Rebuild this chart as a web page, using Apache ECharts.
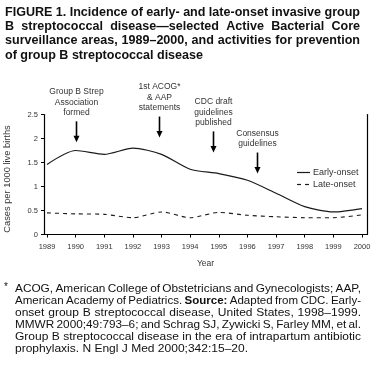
<!DOCTYPE html>
<html><head><meta charset="utf-8">
<script src="https://cdn.jsdelivr.net/npm/echarts@6/dist/echarts.min.js"></script>
<style>html,body{margin:0;padding:0;background:#fff}#c{width:378px;height:380px}</style>
</head><body><div id="c"></div>
<script>
// ---- data ----
const years = [1989, 1990, 1991, 1992, 1993, 1994, 1995, 1996, 1997, 1998, 1999, 2000];
const earlyOnset = [1.46, 1.75, 1.67, 1.80, 1.67, 1.36, 1.27, 1.13, 0.86, 0.58, 0.47, 0.54];
const lateOnset  = [0.45, 0.43, 0.42, 0.35, 0.47, 0.35, 0.46, 0.40, 0.37, 0.35, 0.35, 0.41];
const yTicks = [0, 0.5, 1, 1.5, 2, 2.5];
const seriesNames = ['Early-onset', 'Late-onset'];
const yAxisTitle = 'Cases per 1000 live births';
const annotationYears = [1990.0, 1992.9, 1994.8, 1996.35];
const annotationTips = [1.92, 2.02, 1.71, 1.27];
const annotationTexts = [
  ['Group B Strep', 'Association', 'formed'],
  ['1st ACOG*', '& AAP', 'statements'],
  ['CDC draft', 'guidelines', 'published'],
  ['Consensus', 'guidelines']
];
const titleLines = [
  'FIGURE 1. Incidence of early- and late-onset invasive group',
  'B streptococcal disease\u2014selected Active Bacterial Core',
  'surveillance areas, 1989\u20132000, and activities for prevention',
  'of group B streptococcal disease'
];
const footLines = [
  'ACOG, American College of Obstetricians and Gynecologists; AAP,',
  'American Academy of Pediatrics. **Source:** Adapted from CDC. Early-',
  'onset group B streptococcal disease, United States, 1998\u20131999.',
  'MMWR 2000;49:793\u20136; and Schrag SJ, Zywicki S, Farley MM, et al.',
  'Group B streptococcal disease in the era of intrapartum antibiotic',
  'prophylaxis. N Engl J Med 2000;342:15\u201320.'
];

const FF = 'Liberation Sans';
const INK = '#1a1a1a';
const chart = echarts.init(document.getElementById('c'), null, {renderer: 'canvas'});

const cv = document.createElement('canvas').getContext('2d');
function tw(t, size, bold) { cv.font = (bold ? 'bold ' : '') + size + 'px "' + FF + '"'; return cv.measureText(t).width; }

// justified paragraph as graphic texts
function paragraph(lines, x, y0, lh, width, size, baseBold, lastWidth, color) {
  const els = [];
  const parsed = lines.map(l => l.split(' ').map(w => {
    const b = /^\*\*.*\*\*$/.test(w);
    return {t: b ? w.slice(2, -2) : w, bold: b || baseBold};
  }));
  const natural = ws => ws.reduce((s, w) => s + tw(w.t, size, w.bold), 0) + (ws.length - 1) * tw(' ', size, baseBold);
  const last = parsed[parsed.length - 1];
  let s = lastWidth / natural(last);
  parsed.forEach((ws, i) => {
    const isLast = i === parsed.length - 1;
    let sc = s;
    const W = ws.reduce((a, w) => a + tw(w.t, size, w.bold), 0);
    let gap;
    if (isLast) gap = tw(' ', size, baseBold) * sc;
    else {
      gap = (width - sc * W) / (ws.length - 1);
      const minGap = tw(' ', size, baseBold) * sc * 0.7;
      if (gap < minGap) { sc = (width - minGap * (ws.length - 1)) / W; gap = minGap; }
    }
    let cx = x;
    ws.forEach(w => {
      els.push({type: 'text', x: cx, y: y0 + i * lh, scaleX: sc, silent: true,
        style: {text: w.t, fontFamily: FF, fontSize: size, fontWeight: w.bold ? 'bold' : 'normal',
          fill: color, verticalAlign: 'middle', align: 'left'}});
      cx += tw(w.t, size, w.bold) * sc + gap;
    });
  });
  return els;
}

const option = {
  animation: false,
  backgroundColor: '#fff',
  grid: {left: 44, right: 11, top: 114.5, bottom: 145.5, containLabel: false},
  xAxis: {
    type: 'value', min: 1988.895, max: 2000.175,
    name: 'Year', nameLocation: 'middle', nameGap: 25,
    nameTextStyle: {fontFamily: FF, fontSize: 8.5, color: '#333'},
    axisLine: {show: true, lineStyle: {color: '#000', width: 1.2}},
    axisTick: {show: true, length: 3, customValues: years, lineStyle: {color: '#000'}},
    axisLabel: {customValues: years, fontFamily: FF, fontSize: 7.5, color: '#333', margin: 8,
      formatter: v => String(Math.round(v))},
    splitLine: {show: false}
  },
  yAxis: [{
    type: 'value', min: 0, max: 2.5, interval: 0.5,
    axisLine: {show: true, lineStyle: {color: '#000', width: 1.2}},
    axisTick: {show: true, length: 3, lineStyle: {color: '#000'}},
    axisLabel: {fontFamily: FF, fontSize: 7.5, color: '#333', margin: 6,
      formatter: v => yTicks.indexOf(v) >= 0 ? String(v) : ''},
    splitLine: {show: false}
  }, {
    type: 'value', min: 0, max: 2.5, position: 'right',
    axisLine: {show: true, lineStyle: {color: '#000', width: 1.2}},
    axisTick: {show: false}, axisLabel: {show: false}, splitLine: {show: false}
  }],
  legend: {show: false},
  series: [{
    name: seriesNames[0], type: 'line', smooth: 0.25, symbol: 'none',
    lineStyle: {color: INK, width: 1.2},
    data: years.map((y, i) => [y, earlyOnset[i]])
  }, {
    name: seriesNames[1], type: 'line', smooth: 0.25, symbol: 'none',
    lineStyle: {color: INK, width: 1.1, type: [4, 4]},
    data: years.map((y, i) => [y, lateOnset[i]])
  }]
};
chart.setOption(option);

// annotations, legend and text blocks
const g = [];
annotationYears.forEach((yr, i) => {
  const p = chart.convertToPixel({gridIndex: 0}, [yr, annotationTips[i]]);
  const px = Math.round(p[0]) + 0.5, py = p[1];
  g.push({type: 'line', silent: true, shape: {x1: px, y1: py - 21, x2: px, y2: py - 5},
    style: {stroke: '#000', lineWidth: 1.6}});
  g.push({type: 'polygon', silent: true, shape: {points: [[px - 3, py - 6.5], [px + 3, py - 6.5], [px, py]]},
    style: {fill: '#000'}});
  const lines = annotationTexts[i];
  lines.forEach((t, k) => {
    g.push({type: 'text', silent: true, x: px, y: py - 29.5 - (lines.length - 1 - k) * 10.5,
      style: {text: t, fontFamily: FF, fontSize: 8.5, fill: '#333', align: 'center', verticalAlign: 'middle'}});
  });
});
// y axis title
g.push({type: 'text', silent: true, x: 7.5, y: 179, rotation: Math.PI / 2,
  style: {text: yAxisTitle, fontFamily: FF, fontSize: 9.3, fill: '#333', align: 'center', verticalAlign: 'middle'}});
// legend
seriesNames.forEach((n, i) => {
  const y = 172.5 + i * 12;
  g.push({type: 'line', silent: true, shape: {x1: 297, y1: y, x2: 310, y2: y},
    style: {stroke: INK, lineWidth: 1.2, lineDash: i === 1 ? [4, 4] : null}});
  g.push({type: 'text', silent: true, x: 313, y: y,
    style: {text: n, fontFamily: FF, fontSize: 9, fill: '#333', verticalAlign: 'middle'}});
});
paragraph(titleLines, 5, 12.5, 14.3, 355, 12, true, 198, '#111').forEach(e => g.push(e));
paragraph(footLines, 15, 289, 11.9, 346, 11, false, 233, '#111').forEach(e => g.push(e));
g.push({type: 'text', silent: true, x: 4, y: 287.5, style: {text: '*', fontFamily: FF, fontSize: 10, fill: '#111', verticalAlign: 'middle'}});
chart.setOption({graphic: {elements: g}});
</script>
</body></html>
